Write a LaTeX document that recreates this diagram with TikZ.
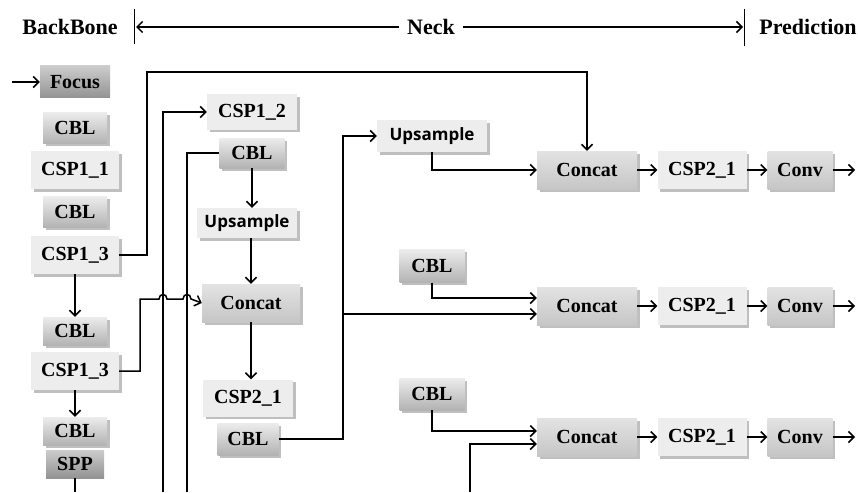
\documentclass[tikz,border=0pt]{standalone}
\usepackage{fontspec}
\setmainfont{Liberation Serif}
\newfontfamily\upfont{Open Sans}
\usetikzlibrary{arrows.meta,shadows}
\tikzset{
  base/.style={inner sep=0pt, font=\bfseries\fontsize{20}{22}\selectfont, text=black},
  shad/.style={drop shadow={shadow xshift=2.5pt, shadow yshift=-2.5pt, fill=gray!50, opacity=1}},
  lightbox/.style={base, shad, fill=gray!14},
  cblbox/.style={base, shad, top color=gray!15, bottom color=gray!60},
  darkbox/.style={base, top color=gray!40, bottom color=gray!85},
  midbox/.style={base, shad, top color=gray!22, bottom color=gray!45},
  upbox/.style={lightbox, font=\upfont\bfseries\fontsize{17}{19}\selectfont},
  ln/.style={draw, line width=1.5pt},
  arr/.style={ln, -{Straight Barb[length=5.5pt,width=11pt,line width=1.5pt]}},
  hdr/.style={font=\bfseries\fontsize{22}{25}\selectfont, inner sep=0pt},
}
\begin{document}
\begin{tikzpicture}[x=1pt,y=-1pt]
\useasboundingbox (0,0) rectangle (858,492);
% header
\node[hdr] (bb) at (70,27) {BackBone};
\node[hdr] (neck) at (431,27) {Neck};
\node[hdr] (pred) at (808,27) {Prediction};
\coordinate (b1t) at (134,9); \coordinate (b1b) at (134,44);
\coordinate (b2t) at (744,9); \coordinate (b2b) at (744,46);
\draw[line width=0.9pt] (b1t) -- (b1b);
\draw[line width=0.9pt] (b2t) -- (b2b);
\coordinate (la) at (136,27); \coordinate (ra) at (743,27);
\draw[arr] ([xshift=-8pt]neck.west) -- (la);
\draw[arr] ([xshift=8pt]neck.east) -- (ra);

% backbone column
\node[darkbox, minimum width=70pt, minimum height=32pt] (focus) at (75,82) {Focus};
\node[cblbox, minimum width=64pt, minimum height=31pt] (cbl1) at (75,128) {CBL};
\node[lightbox, minimum width=88pt, minimum height=38pt] (csp11) at (75,170) {CSP1\_1};
\node[cblbox, minimum width=64pt, minimum height=31pt] (cbl2) at (75,212) {CBL};
\node[lightbox, minimum width=88pt, minimum height=38pt] (csp13a) at (75,255) {CSP1\_3};
\node[cblbox, minimum width=64pt, minimum height=28pt] (cbl3) at (75,331) {CBL};
\node[lightbox, minimum width=88pt, minimum height=38pt] (csp13b) at (75,371) {CSP1\_3};
\node[cblbox, minimum width=64pt, minimum height=28pt] (cbl4) at (75,431) {CBL};
\node[darkbox, minimum width=58pt, minimum height=28pt] (spp) at (75,464) {SPP};

% neck middle column
\node[lightbox, minimum width=90pt, minimum height=35pt] (csp12) at (252,112) {CSP1\_2};
\node[cblbox, minimum width=65pt, minimum height=30pt] (cbl5) at (252,153) {CBL};
\node[upbox, minimum width=100pt, minimum height=30pt] (up1) at (247,223) {Upsample};
\node[midbox, minimum width=98pt, minimum height=38pt] (conc1) at (251,303) {Concat};
\node[lightbox, minimum width=90pt, minimum height=37pt] (csp21l) at (248,398) {CSP2\_1};
\node[cblbox, minimum width=61pt, minimum height=32pt] (cbl6) at (248,439) {CBL};

% neck right column
\node[upbox, minimum width=110pt, minimum height=32pt] (up2) at (432,136) {Upsample};
\node[cblbox, minimum width=65pt, minimum height=33pt] (cbl7) at (432,266) {CBL};
\node[cblbox, minimum width=65pt, minimum height=32pt] (cbl8) at (432,394) {CBL};

% prediction rows
\foreach \n/\y in {T/170, M/306, B/437}{
  \node[midbox, minimum width=100pt, minimum height=38pt] (conc\n) at (587,\y) {Concat};
  \node[lightbox, minimum width=89pt, minimum height=38pt] (csp\n) at (702,\y) {CSP2\_1};
  \node[midbox, minimum width=65pt, minimum height=38pt] (conv\n) at (800,\y) {Conv};
  \coordinate (out\n) at (855,\y);
  \draw[arr] (conc\n.east) -- (csp\n.west);
  \draw[arr] (csp\n.east) -- (conv\n.west);
  \draw[arr] (conv\n.east) -- (out\n);
}

% backbone connectors
\coordinate (in) at (12,82);
\draw[arr] (in) -- (focus.west);
\coordinate (k1) at (147,72);
\draw[arr] (csp13a.east) -| (k1) -| (concT.north);
\draw[arr] (csp13a.south) -- (cbl3.north);
\draw[arr] (csp13b.south) -- (cbl4.north);
\coordinate (sppend) at (75,492);
\draw[ln] (spp.south) -- (sppend);
% CSP1_3b to concat with hops
\coordinate (k2) at (140,299);
\coordinate (h1a) at (159,299); \coordinate (h1b) at (167,299);
\coordinate (h2a) at (183,299); \coordinate (h2b) at (191,299);
\draw[arr] (csp13b.east) -| (k2) -- (h1a) .. controls (159,293) and (167,293) .. (h1b) -- (h2a) .. controls (183,293) and (191,293) .. (h2b) -- (conc1.west);
% long verticals
\coordinate (v1) at (163,492); \coordinate (v2) at (187,492);
\draw[arr] (v1) |- (csp12.west);
\draw[ln] (v2) |- (cbl5.west);
\draw[arr] (cbl5.south) -- (up1.north -| cbl5.south);
\draw[arr] (up1.south -| conc1.north) -- (conc1.north);
\draw[arr] (conc1.south) -- (csp21l.north -| conc1.south);
% CBL6 route
\coordinate (k3) at (343,300);
\draw[arr] (cbl6.east) -| (k3) |- (up2.west);
\coordinate (j1) at (343,314);
\draw[arr] (j1) -- (j1 -| concM.west);
\draw[arr] (up2.south) |- (concT.west);
\draw[arr] (cbl7.south) |- ([yshift=8pt]concM.west);
\draw[arr] (cbl8.south) |- ([yshift=6pt]concB.west);
\coordinate (v3) at (470,492);
\draw[arr] (v3) |- ([yshift=-7pt]concB.west);
\end{tikzpicture}
\end{document}
